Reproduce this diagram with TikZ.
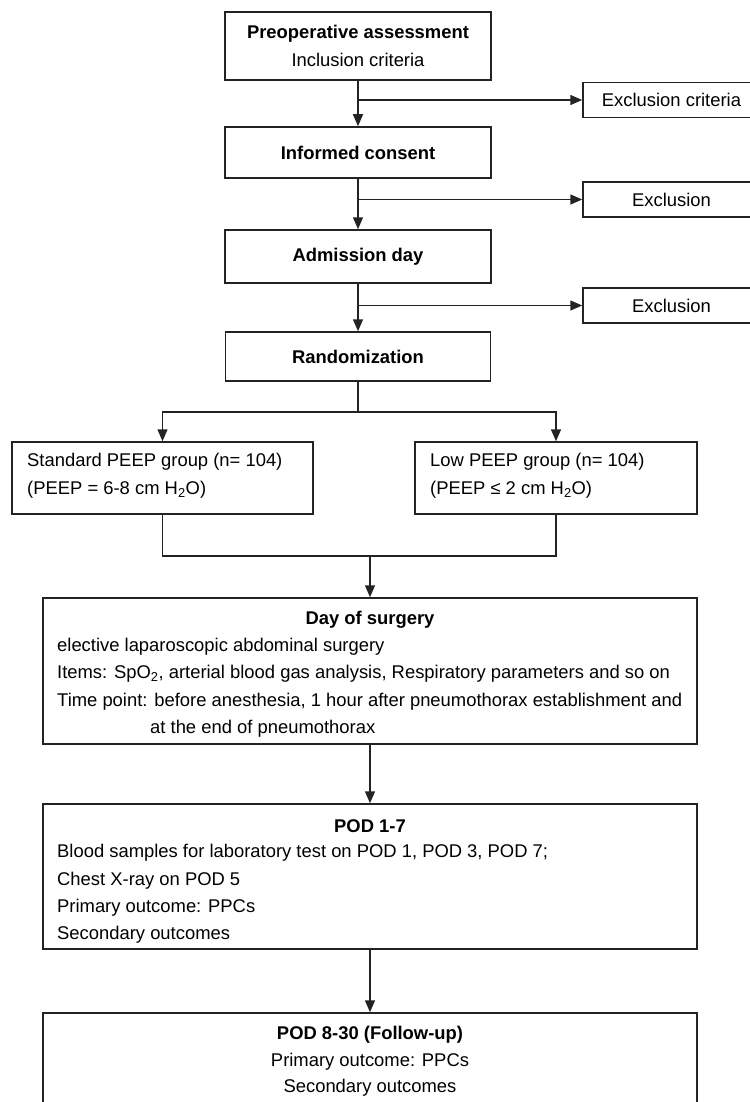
\documentclass[tikz,border=0pt]{standalone}
\usepackage{fontspec}
\setmainfont{Liberation Sans}
\definecolor{boxline}{RGB}{35,35,35}
\usetikzlibrary{arrows.meta,positioning}
\tikzset{
    stage/.style={draw=boxline, line width=1.5pt, rectangle, inner sep=0pt, align=center,
        font=\fontsize{18.4}{28}\selectfont},
    flow/.style={draw=boxline, line width=1.5pt, -{Triangle[length=12pt,width=10pt]}},
    link/.style={draw=boxline, line width=1.5pt},
    line/.style={inner sep=0pt, anchor=west, font=\fontsize{18.4}{22}\selectfont},
    head/.style={inner sep=0pt, font=\fontsize{18.4}{22}\selectfont\bfseries},
}

\begin{document}
\begin{tikzpicture}[x=1pt, y=-1pt]
    \useasboundingbox (0,0) rectangle (749,1102);

    % Screening steps and exclusions
    \node[stage, minimum width=266pt, minimum height=68pt] (preop) at (358,46)
        {\textbf{Preoperative assessment}\\Inclusion criteria};
    \node[stage, minimum width=177pt, minimum height=35pt] (exclA) at (671.5,100) {Exclusion criteria};
    \node[stage, minimum width=266pt, minimum height=51pt] (consent) at (358,152.5) {\textbf{Informed consent}};
    \node[stage, minimum width=177pt, minimum height=35pt] (exclB) at (671.5,199.5) {Exclusion};
    \node[stage, minimum width=266pt, minimum height=53pt] (admission) at (358,256.5) {\textbf{Admission day}};
    \node[stage, minimum width=177pt, minimum height=35pt] (exclC) at (671.5,305.5) {Exclusion};
    \node[stage, minimum width=265pt, minimum height=49pt] (random) at (358,356.5) {\textbf{Randomization}};

    \draw[flow] (preop) -- (consent);
    \draw[flow] (consent) -- (admission);
    \draw[flow] (admission) -- (random);
    \draw[flow] (preop.south |- exclA.west) -- (exclA.west);
    \draw[flow] (consent.south |- exclB.west) -- (exclB.west);
    \draw[flow] (admission.south |- exclC.west) -- (exclC.west);

    % The two groups
    \node[stage, minimum width=301pt, minimum height=72pt] (standard) at (162.5,478) {};
    \node[line] (standardA) at (27,462) {Standard PEEP group (n= 104)};
    \node[line] (standardB) at (27,490) {(PEEP = 6-8 cm H\textsubscript{2}O)};
    \node[stage, minimum width=282pt, minimum height=72pt] (lowpeep) at (556,478) {};
    \node[line] (lowpeepA) at (430,462) {Low PEEP group (n= 104)};
    \node[line] (lowpeepB) at (430,490) {(PEEP ≤ 2 cm H\textsubscript{2}O)};

    \coordinate (split) at (358,412);
    \coordinate (merge) at (370,556);
    \draw[link] (random) -- (split);
    \draw[flow] (split) -| (standard);
    \draw[flow] (split) -| (lowpeep);
    \draw[link] (standard) |- (merge) -| (lowpeep);

    % Day of surgery
    \node[stage, minimum width=654pt, minimum height=146pt] (surgery) at (370,671) {};
    \node[head] (surgeryT) at (370,620) {Day of surgery};
    \node[line] (surgeryA) at (57,647) {elective laparoscopic abdominal surgery};
    \node[line] (surgeryB) at (57,674) {Items: SpO\textsubscript{2}, arterial blood gas analysis, Respiratory parameters and so on};
    \node[line] (surgeryC) at (57,702) {Time point: before anesthesia, 1 hour after pneumothorax establishment and};
    \node[line] (surgeryD) at (150,729) {at the end of pneumothorax};
    \draw[flow] (merge) -- (surgery);

    % Postoperative days
    \node[stage, minimum width=654pt, minimum height=145pt] (podA) at (370,876.5) {};
    \node[head] (podAT) at (370,826) {POD 1-7};
    \node[line] (podAA) at (57,853) {Blood samples for laboratory test on POD 1, POD 3, POD 7;};
    \node[line] (podAB) at (57,881) {Chest X-ray on POD 5};
    \node[line] (podAC) at (57,908) {Primary outcome: PPCs};
    \node[line] (podAD) at (57,935) {Secondary outcomes};
    \draw[flow] (surgery) -- (podA);

    \node[stage, minimum width=654pt, minimum height=102pt] (podB) at (370,1064) {};
    \node[head] (podBT) at (370,1035) {POD 8-30 (Follow-up)};
    \node[head, font=\fontsize{18.4}{22}\selectfont] (podBA) at (370,1062) {Primary outcome: PPCs};
    \node[head, font=\fontsize{18.4}{22}\selectfont] (podBB) at (370,1088) {Secondary outcomes};
    \draw[flow] (podA) -- (podB);
\end{tikzpicture}
\end{document}
